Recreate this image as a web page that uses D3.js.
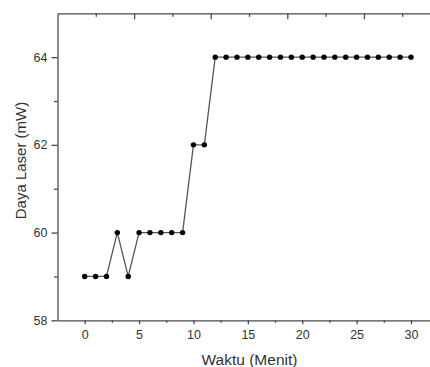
<!DOCTYPE html>
<html>
<head>
<meta charset="utf-8">
<script src="https://cdn.jsdelivr.net/npm/d3@7"></script>
<style>
  html, body { margin: 0; padding: 0; background: #fff; }
  svg { display: block; }
  text { font-family: "Liberation Sans", Arial, sans-serif; fill: #333; }
</style>
</head>
<body>
<script>
// Laser power over time
const minutes = [0,1,2,3,4,5,6,7,8,9,10,11,12,13,14,15,16,17,18,19,20,21,22,23,24,25,26,27,28,29,30];
const powerMW = [59,59,59,60,59,60,60,60,60,60,62,62,64,64,64,64,64,64,64,64,64,64,64,64,64,64,64,64,64,64,64];

const xMajorTicks = [0,5,10,15,20,25,30];
const xMinorTicks = [2.5,7.5,12.5,17.5,22.5,27.5];
const yMajorTicks = [58,60,62,64];
const yMinorTicks = [59,61,63];
const topMajorTicks = [2,4,6,8];
const topMinorTicks = [1,3,5,7,9];

const W = 430, H = 367;
const plotLeft = 57.5, plotTop = 13.3, plotBottom = 320.3;
const unit = 10.877;

const svg = d3.select("body").append("svg").attr("width", W).attr("height", H);

const x = d3.scaleLinear().domain([-2.5, 32.5]).range([plotLeft, plotLeft + 35 * unit]);
const y = d3.scaleLinear().domain([58, 65]).range([plotBottom, plotTop]);
const xTop = d3.scaleLinear().domain([0, 10]).range([plotLeft, plotLeft + 383]);

const axisColor = "#4a4a4a";
const intFmt = d3.format("d");

function styleAxis(g) {
  g.selectAll("path, line").attr("stroke", axisColor).attr("stroke-width", 1.3);
  g.selectAll("text").attr("fill", "#333").attr("font-size", "12.5px")
    .attr("font-family", "Liberation Sans, Arial, sans-serif");
}

// bottom axis
svg.append("g").attr("transform", `translate(0,${plotBottom})`)
  .call(d3.axisBottom(x).tickValues(xMajorTicks).tickFormat(intFmt).tickSize(4).tickPadding(6).tickSizeOuter(0))
  .call(styleAxis);
svg.append("g").attr("transform", `translate(0,${plotBottom})`)
  .call(d3.axisBottom(x).tickValues(xMinorTicks).tickSize(2.5).tickFormat("").tickSizeOuter(0))
  .call(styleAxis).select(".domain").remove();

// left axis
svg.append("g").attr("transform", `translate(${plotLeft},0)`)
  .call(d3.axisLeft(y).tickValues(yMajorTicks).tickFormat(intFmt).tickSize(6).tickPadding(4).tickSizeOuter(0))
  .call(styleAxis);
svg.append("g").attr("transform", `translate(${plotLeft},0)`)
  .call(d3.axisLeft(y).tickValues(yMinorTicks).tickSize(3.5).tickFormat("").tickSizeOuter(0))
  .call(styleAxis).select(".domain").remove();

// top frame with inward ticks
svg.append("g").attr("transform", `translate(0,${plotTop})`)
  .call(d3.axisBottom(xTop).tickValues(topMajorTicks).tickSize(6).tickFormat("").tickSizeOuter(0))
  .call(styleAxis);
svg.append("g").attr("transform", `translate(0,${plotTop})`)
  .call(d3.axisBottom(xTop).tickValues(topMinorTicks).tickSize(3.5).tickFormat("").tickSizeOuter(0))
  .call(styleAxis).select(".domain").remove();

// data line and markers
const data = minutes.map((m, i) => ({ m, p: powerMW[i] }));
svg.append("path").datum(data)
  .attr("fill", "none").attr("stroke", "#555").attr("stroke-width", 1.3)
  .attr("d", d3.line().x(d => x(d.m)).y(d => y(d.p)));
svg.append("g").selectAll("circle").data(data).join("circle")
  .attr("cx", d => x(d.m)).attr("cy", d => y(d.p)).attr("r", 2.7).attr("fill", "#000");

// axis titles
svg.append("text").attr("x", 249.5).attr("y", 365).attr("text-anchor", "middle")
  .attr("font-size", "15.5px").text("Waktu (Menit)");
svg.append("text").attr("transform", "translate(26,160.5) rotate(-90)").attr("text-anchor", "middle")
  .attr("font-size", "15px").text("Daya Laser (mW)");
</script>
</body>
</html>
